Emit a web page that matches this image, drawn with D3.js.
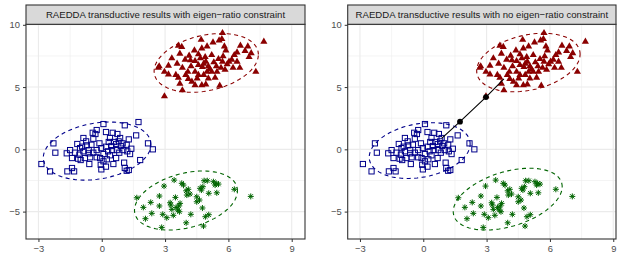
<!DOCTYPE html>
<html>
<head>
<meta charset="utf-8">
<script src="https://cdn.jsdelivr.net/npm/d3@7"></script>
<style>
body{margin:0;background:#fff;}
text{font-family:"Liberation Sans",Arial,sans-serif;}
</style>
</head>
<body>
<svg id="chart" width="620" height="253"></svg>
<script>
// cluster 1 (blue squares)
var blueX=[1.74,0.08,1.09,-0.24,-0.43,0.2,0.52,0.74,-0.40,1.63,-2.29,-2.2,-1.16,-0.93,-0.71,-1.5,-1.27,-1.06,-0.87,-0.62,-0.4,-0.24,-0.02,0.2,0.46,0.68,0.8,0.99,0.58,1.02,1.21,1.4,1.34,2.19,2.42,1.82,-2.86,-2.45,-1.63,-1.41,-1.31,-0.59,-0.05,-0.02,0.2,0.55,1.06,1.09,1.28,1.18,-0.8,-0.55,-0.08,0.24,0.39,0.08,0.68,0.83,-1.12,-1.41,-0.87,-1.66,0.3,0.39,-0.3,-1.03,-0.49,-0.11,0.9,1.18,0.71,-0.24,0.08,-0.62,-1.0,0.33,0.87,-0.74,0.49,1.28];
var blueY=[2.19,2.03,1.93,1.55,1.33,1.39,1.33,1.23,0.85,1.12,0.48,-0.27,0.43,0.21,0.32,-0.06,-0.27,-0.43,-0.16,-0.06,-0.27,-0.06,0.1,0.21,0.27,0.43,0.64,0.48,0.59,-0.06,-0.16,0.05,-0.38,0.48,0.0,-0.86,-1.18,-1.77,-1.77,-1.5,-1.77,-1.18,-1.24,-1.61,-1.39,-1.18,-1.07,-1.5,-1.66,-1.72,-0.7,-0.64,-0.7,-0.8,-0.48,-0.38,-0.7,-0.27,-0.75,-0.7,0.91,-0.32,-0.16,0.91,1.23,0.1,0.37,0.48,0.27,0.37,-0.06,-0.64,-0.96,-0.32,-0.86,0.59,0.91,0.64,-0.06,0.8];
// cluster 2 (red triangles)
var redX=[5.72,7.68,4.71,5.27,5.56,3.63,3.79,4.99,5.81,6.57,6.92,4.39,4.74,5.88,6.41,6.79,7.08,6.98,3.7,4.14,4.58,4.9,5.21,5.53,6.16,3.32,3.95,4.42,4.93,5.31,5.72,5.94,6.41,6.54,2.72,3.16,3.57,3.82,4.23,4.58,4.77,5.05,5.43,5.65,6.22,7.3,2.97,3.16,3.51,4.08,4.42,4.83,5.21,5.84,3.63,4.1,4.52,5.05,5.37,3.7,4.42,4.74,4.93,5.59,3.82,2.97,2.68,4.67,5.12,5.46,4.2,3.98,5.75,6.03,4.99,4.58,5.69,4.83,6.28,4.27];
var redY=[9.34,8.64,8.8,8.59,8.75,8.32,8.22,8.27,8.27,8.32,8.27,7.95,8.11,7.95,7.79,7.9,7.73,7.41,7.68,7.52,7.63,7.41,7.57,7.25,7.2,7.31,7.2,7.09,7.04,6.99,7.04,6.83,7.04,6.55,6.67,6.72,6.88,6.55,6.67,6.77,6.61,6.67,6.67,6.55,6.55,6.23,6.23,6.02,5.97,6.23,6.23,5.97,6.23,6.39,5.75,5.65,5.7,5.7,5.75,5.27,5.16,5.16,5.22,5.11,4.74,4.26,6.55,7.31,6.45,6.23,7.15,5.97,7.47,7.04,6.23,5.97,8.86,6.88,7.57,5.43];
// cluster 3 (green stars)
var greenX=[1.66,1.97,2.07,2.32,2.37,2.73,2.73,2.84,2.95,2.89,3.08,3.27,3.32,3.43,3.49,3.52,3.65,3.71,3.6,3.79,3.87,4.0,4.03,4.1,4.18,4.0,4.22,4.5,4.63,4.72,4.79,4.85,4.77,4.91,4.82,5.07,5.0,5.07,5.29,5.37,5.45,5.53,5.42,6.28,7.06,4.5,3.39,3.68,3.24,4.66];
var greenY=[-3.89,-4.66,-5.57,-4.26,-5.14,-3.75,-4.55,-6.27,-2.95,-5.22,-5.49,-4.47,-4.82,-2.47,-3.86,-4.66,-4.55,-4.34,-4.88,-2.73,-2.87,-3.33,-3.67,-3.21,-3.59,-5.9,-5.22,-3.81,-4.07,-3.27,-3.0,-2.52,-4.71,-5.41,-6.16,-5.25,-2.52,-3.53,-2.6,-2.87,-3.49,-2.79,-2.73,-3.21,-3.78,-4.21,-5.3,-5.01,-4.29,-3.13];

// ellipse fits: centre x, centre y, var x, cov xy, var y
var ellLeftBlue=[-0.22,-0.14,6.50,1.36,5.43];
var ellLeftRed=[4.95,6.94,6.10,1.65,5.57];
var ellLeftGreen=[3.99,-4.11,5.95,1.90,5.62];
var ellRightBlue=[-0.17,-0.10,5.71,1.27,5.02];
var ellRightRed=[4.98,6.97,6.00,1.64,5.52];
var ellRightGreen=[4.00,-4.00,6.66,2.58,6.15];

// path shown only with no constraint
var pathX=[0.87,1.74,2.97,3.82];
var pathY=[0.88,2.22,4.20,5.65];

var titles=["RAEDDA transductive results with eigen\u2212ratio constraint",
            "RAEDDA transductive results with no eigen\u2212ratio constraint"];
var xTicks=[-3,0,3,6,9];
var yTicks=[-5,0,5,10];
var xMinor=[-1.5,1.5,4.5,7.5];
var yMinor=[-2.5,2.5,7.5];

var colBlue="#00008B",colRed="#8B0000",colGreen="#006400";

var svg=d3.select("#chart");

var panels=[
  {left:26,right:305,xdom:[-3.59,9.63],ell:[ellLeftBlue,ellLeftRed,ellLeftGreen],path:false},
  {left:347.7,right:616,xdom:[-3.58,9.13],ell:[ellRightBlue,ellRightRed,ellRightGreen],path:true}
];
var topY=24.3,bottomY=239,stripTop=5;

function ellipsePts(e){
  var sa=Math.sqrt(e[2]);
  var l21=e[3]/sa,l22=Math.sqrt(e[4]-e[3]*e[3]/e[2]);
  return d3.range(0,361,3).map(function(d){
    var t=d*Math.PI/180,u=Math.cos(t),v=Math.sin(t);
    return [e[0]+sa*u,e[1]+l21*u+l22*v];
  });
}

panels.forEach(function(p,i){
  var xScale=d3.scaleLinear().domain(p.xdom).range([p.left,p.right]);
  var yScale=d3.scaleLinear().domain([-7.2,10.04]).range([bottomY,topY]);
  var g=svg.append("g");

  // minor + major grid
  g.selectAll(".vmin").data(xMinor).enter().append("line")
   .attr("x1",function(d){return xScale(d);}).attr("x2",function(d){return xScale(d);})
   .attr("y1",topY).attr("y2",bottomY).attr("stroke","#EBEBEB").attr("stroke-width",0.55);
  g.selectAll(".hmin").data(yMinor).enter().append("line")
   .attr("y1",function(d){return yScale(d);}).attr("y2",function(d){return yScale(d);})
   .attr("x1",p.left).attr("x2",p.right).attr("stroke","#EBEBEB").attr("stroke-width",0.55);
  g.selectAll(".vmaj").data(xTicks).enter().append("line")
   .attr("x1",function(d){return xScale(d);}).attr("x2",function(d){return xScale(d);})
   .attr("y1",topY).attr("y2",bottomY).attr("stroke","#EBEBEB").attr("stroke-width",1.1);
  g.selectAll(".hmaj").data(yTicks).enter().append("line")
   .attr("y1",function(d){return yScale(d);}).attr("y2",function(d){return yScale(d);})
   .attr("x1",p.left).attr("x2",p.right).attr("stroke","#EBEBEB").attr("stroke-width",1.1);

  // points
  var blue=blueX.map(function(d,k){return [d,blueY[k]];});
  var red=redX.map(function(d,k){return [d,redY[k]];});
  var green=greenX.map(function(d,k){return [d,greenY[k]];});
  // in the unconstrained fit the first blue point is the moving one (drawn as the path)
  if(p.path) blue=blue.slice(1);

  g.selectAll(".sq").data(blue).enter().append("rect")
   .attr("x",function(d){return xScale(d[0])-2.6;})
   .attr("y",function(d){return yScale(d[1])-2.6;})
   .attr("width",5.2).attr("height",5.2)
   .attr("fill","none").attr("stroke",colBlue).attr("stroke-width",1);

  var tri=d3.symbol().type(d3.symbolTriangle).size(22);
  g.selectAll(".tri").data(red).enter().append("path")
   .attr("d",tri)
   .attr("transform",function(d){return "translate("+xScale(d[0])+","+yScale(d[1])+")";})
   .attr("fill",colRed);

  var s=3;
  var star="M"+(-s)+",0H"+s+"M0,"+(-s)+"V"+s+
           "M"+(-s*0.72)+","+(-s*0.72)+"L"+(s*0.72)+","+(s*0.72)+
           "M"+(-s*0.72)+","+(s*0.72)+"L"+(s*0.72)+","+(-s*0.72);
  g.selectAll(".star").data(green).enter().append("path")
   .attr("d",star)
   .attr("transform",function(d){return "translate("+xScale(d[0])+","+yScale(d[1])+")";})
   .attr("stroke",colGreen).attr("stroke-width",1).attr("fill","none");

  // ellipses
  var line=d3.line()
             .x(function(d){return xScale(d[0]);})
             .y(function(d){return yScale(d[1]);});
  var cols=[colBlue,colRed,colGreen];
  p.ell.forEach(function(e,k){
    g.append("path").datum(ellipsePts(e))
     .attr("d",line).attr("fill","none")
     .attr("stroke",cols[k]).attr("stroke-width",1.1)
     .attr("stroke-dasharray","4,3.5");
  });

  if(p.path){
    var pts=pathX.map(function(d,k){return [d,pathY[k]];});
    g.append("path").datum(pts).attr("d",line)
     .attr("fill","none").attr("stroke","#000").attr("stroke-width",1.1);
    g.selectAll(".dot").data(pts.slice(1,3)).enter().append("circle")
     .attr("cx",function(d){return xScale(d[0]);})
     .attr("cy",function(d){return yScale(d[1]);})
     .attr("r",2.9).attr("fill","#000");
  }

  // panel border
  g.append("rect").attr("x",p.left).attr("y",topY)
   .attr("width",p.right-p.left).attr("height",bottomY-topY)
   .attr("fill","none").attr("stroke","#333").attr("stroke-width",1.1);

  // strip
  g.append("rect").attr("x",p.left).attr("y",stripTop)
   .attr("width",p.right-p.left).attr("height",topY-stripTop)
   .attr("fill","#D9D9D9").attr("stroke","#333").attr("stroke-width",1.1);
  g.append("text").attr("x",(p.left+p.right)/2).attr("y",(stripTop+topY)/2+3.3)
   .attr("text-anchor","middle").attr("font-size","9.6px").attr("fill","#1A1A1A")
   .text(titles[i]);

  // axes
  var xAxis=d3.axisBottom(xScale).tickValues(xTicks).tickSize(3)
              .tickFormat(function(d){return d<0?"\u2212"+(-d):d;});
  var yAxis=d3.axisLeft(yScale).tickValues(yTicks).tickSize(3)
              .tickFormat(function(d){return d<0?"\u2212"+(-d):d;});
  var ax=g.append("g").attr("transform","translate(0,"+bottomY+")").call(xAxis);
  var ay=g.append("g").attr("transform","translate("+p.left+",0)").call(yAxis);
  [ax,ay].forEach(function(a){
    a.select(".domain").remove();
    a.selectAll("line").attr("stroke","#333");
    a.selectAll("text").attr("fill","#4D4D4D").attr("font-size","9.4px")
     .attr("font-family","'Liberation Sans',Arial,sans-serif");
  });
});
</script>
</body>
</html>
